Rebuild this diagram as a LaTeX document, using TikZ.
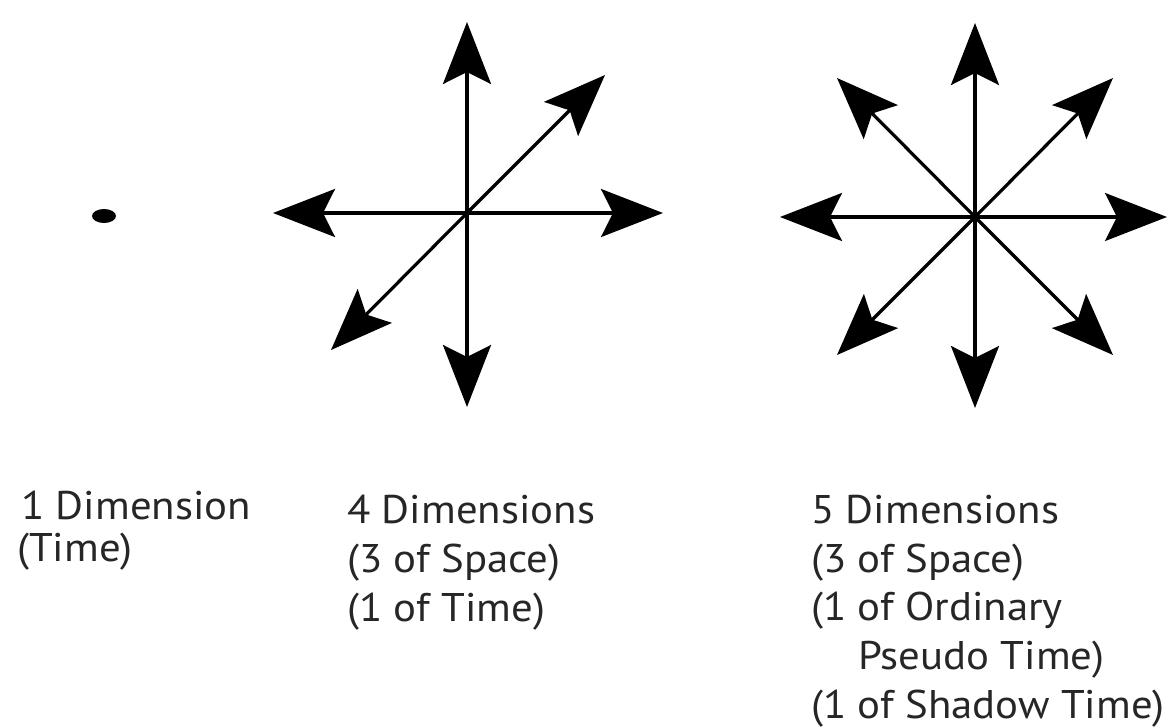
\documentclass[tikz,border=0pt]{standalone}
\usepackage{fontspec}
\setmainfont[FakeStretch=1.07]{PT Sans}
\usetikzlibrary{arrows.meta}
\begin{document}
\begin{tikzpicture}[x=1pt,y=-1pt,
  arr/.style={line width=3.2pt,-{Stealth[length=62pt,width=48pt,inset=12pt]}},
  lbl/.style={anchor=base west,inner sep=0pt,font=\fontsize{40}{48}\selectfont,text=black!85}]
\useasboundingbox (0,0) rectangle (1168,728);
% dot
\fill (104,216) ellipse [x radius=12, y radius=7];
% star with four-plus-diagonal arrows
\coordinate (ca) at (467,213);
\coordinate (ca-n) at (467,22);
\coordinate (ca-s) at (467,407);
\coordinate (ca-w) at (273,213);
\coordinate (ca-e) at (663,213);
\coordinate (ca-ne) at (605,75);
\coordinate (ca-sw) at (331,350);
\foreach \d in {n,s,w,e,ne,sw} \draw[arr] (ca) -- (ca-\d);
% eight-arrow star
\coordinate (cb) at (975,217);
\coordinate (cb-n) at (975,23);
\coordinate (cb-s) at (975,408);
\coordinate (cb-w) at (780,217);
\coordinate (cb-e) at (1167,217);
\coordinate (cb-ne) at (1113,78);
\coordinate (cb-nw) at (837,78);
\coordinate (cb-se) at (1113,355);
\coordinate (cb-sw) at (837,355);
\foreach \d in {n,s,w,e,ne,nw,se,sw} \draw[arr] (cb) -- (cb-\d);
% labels
\node[lbl] (l1a) at (21,519) {1 Dimension};
\node[lbl] (l1b) at (17,561) {(Time)};
\node[lbl] (l2a) at (347,523) {4 Dimensions};
\node[lbl] (l2b) at (347,572) {(3 of Space)};
\node[lbl] (l2c) at (347,621) {(1 of Time)};
\node[lbl] (l3a) at (811,523) {5 Dimensions};
\node[lbl] (l3b) at (811,572) {(3 of Space)};
\node[lbl] (l3c) at (811,620) {(1 of Ordinary};
\node[lbl] (l3d) at (858,669) {Pseudo Time)};
\node[lbl] (l3e) at (811,718) {(1 of Shadow Time)};
\end{tikzpicture}
\end{document}
